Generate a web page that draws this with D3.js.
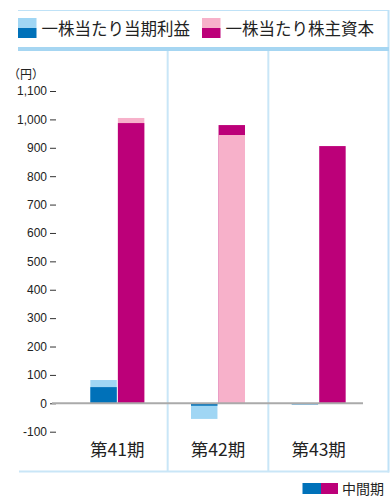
<!DOCTYPE html>
<html><head><meta charset="utf-8">
<script src="https://cdn.jsdelivr.net/npm/d3@7"></script>
<style>
html,body{margin:0;padding:0;background:#fff;}
svg{display:block;font-family:"Liberation Sans","Noto Sans CJK JP",sans-serif;}
</style></head>
<body><svg id="c" width="390" height="496"></svg>
<script>
const categories = ["第41期","第42期","第43期"];
const epsFull = [82, -55, null];
const epsInterim = [57, -8.5, -4];
const bpsFull = [1005, 945, null];
const bpsInterim = [987, 980, 906];
const yTicks = [-100,0,100,200,300,400,500,600,700,800,900,1000,1100];
const legendLabels = ["一株当たり当期利益","一株当たり株主資本"];
const interimLabel = "中間期";
const unitLabel = "（円）";

const C = {epsLight:"#a0d6f4", epsDark:"#0071b9", bpsLight:"#f7b1ca", bpsDark:"#bc0079",
  frame:"#bfe2f7", band:"#a6d6f2", divider:"#c9e6f7", zero:"#aaaaaa"};

const svg = d3.select("#c");
const x = d3.scaleBand().domain(categories).range([67, 369]);
const sub = d3.scaleBand().domain(["eps","bps"])
  .range([x.bandwidth()/2-27, x.bandwidth()/2+27]).paddingInner(0.04);
const y = d3.scaleLinear().domain([-100, 1100]).range([431.7, 91]);

// frame
svg.append("line").attr("x1",18).attr("x2",389).attr("y1",10.5).attr("y2",10.5)
  .attr("stroke",C.frame).attr("stroke-width",1.2);
svg.append("line").attr("x1",388.5).attr("x2",388.5).attr("y1",10).attr("y2",472.5)
  .attr("stroke",C.frame).attr("stroke-width",2);
svg.append("rect").attr("x",18).attr("y",47).attr("width",371).attr("height",4).attr("fill",C.band);
svg.append("line").attr("x1",19).attr("x2",389).attr("y1",471.5).attr("y2",471.5)
  .attr("stroke",C.divider).attr("stroke-width",2);
// dividers
categories.slice(1).forEach(c=>{
  const xx = x(c);
  svg.append("line").attr("x1",xx).attr("x2",xx).attr("y1",51).attr("y2",471)
    .attr("stroke",C.divider).attr("stroke-width",2);
});

// legend
const lg = [[C.epsLight,C.epsDark,18],[C.bpsLight,C.bpsDark,202]];
lg.forEach((l,i)=>{
  svg.append("rect").attr("x",l[2]).attr("y",18).attr("width",18.5).attr("height",10).attr("fill",l[0]);
  svg.append("rect").attr("x",l[2]).attr("y",28).attr("width",18.5).attr("height",10).attr("fill",l[1]);
  svg.append("text").attr("x",l[2]+23.5).attr("y",35).attr("font-size",16.5).attr("fill","#222")
    .attr("font-family","'Noto Sans CJK JP',sans-serif").text(legendLabels[i]);
});

// axis
const ax = svg.append("g").attr("transform","translate(56,0)")
  .call(d3.axisLeft(y).tickValues(yTicks).tickSize(6).tickPadding(3)
    .tickFormat(d=> d<0 ? "-"+d3.format(",")(-d) : d3.format(",")(d)));
ax.select(".domain").remove();
ax.selectAll(".tick line").attr("stroke","#333").attr("stroke-width",1);
ax.selectAll(".tick text").attr("font-size",12).attr("fill","#222")
  .attr("font-family","'Liberation Sans',Arial,sans-serif");
svg.append("text").attr("x",8).attr("y",79).attr("font-size",12).attr("fill","#222")
  .attr("font-family","'Noto Sans CJK JP',sans-serif").text(unitLabel);

// bars
function drawPair(key, full, interim, light, dark){
  categories.forEach((c,i)=>{
    const items = [];
    if(full[i]!=null) items.push({v:full[i], col:light});
    if(interim[i]!=null) items.push({v:interim[i], col:dark});
    items.sort((a,b)=>Math.abs(b.v)-Math.abs(a.v));
    svg.selectAll(null).data(items).enter().append("rect")
      .attr("x", x(c)+sub(key)).attr("width", sub.bandwidth())
      .attr("y", d=> y(Math.max(0,d.v))).attr("height", d=> Math.abs(y(d.v)-y(0)))
      .attr("fill", d=>d.col);
  });
}
drawPair("eps", epsFull, epsInterim, C.epsLight, C.epsDark);
drawPair("bps", bpsFull, bpsInterim, C.bpsLight, C.bpsDark);

// zero line
svg.append("line").attr("x1",52).attr("x2",363).attr("y1",y(0)).attr("y2",y(0))
  .attr("stroke",C.zero).attr("stroke-width",2);

// category labels
svg.selectAll(null).data(categories).enter().append("text")
  .attr("x", d=> x(d)+x.bandwidth()/2).attr("y",456).attr("text-anchor","middle")
  .attr("font-size",17.5).attr("fill","#222")
  .attr("font-family","'Noto Sans CJK JP',sans-serif").text(d=>d);

// bottom legend
svg.append("rect").attr("x",302.5).attr("y",483).attr("width",18.5).attr("height",11).attr("fill",C.epsDark);
svg.append("rect").attr("x",321).attr("y",483).attr("width",17).attr("height",11).attr("fill",C.bpsDark);
svg.append("text").attr("x",342).attr("y",487.5).attr("dominant-baseline","central")
  .attr("font-size",14).attr("fill","#222")
  .attr("font-family","'Noto Sans CJK JP',sans-serif").text(interimLabel);
</script>
</body></html>
